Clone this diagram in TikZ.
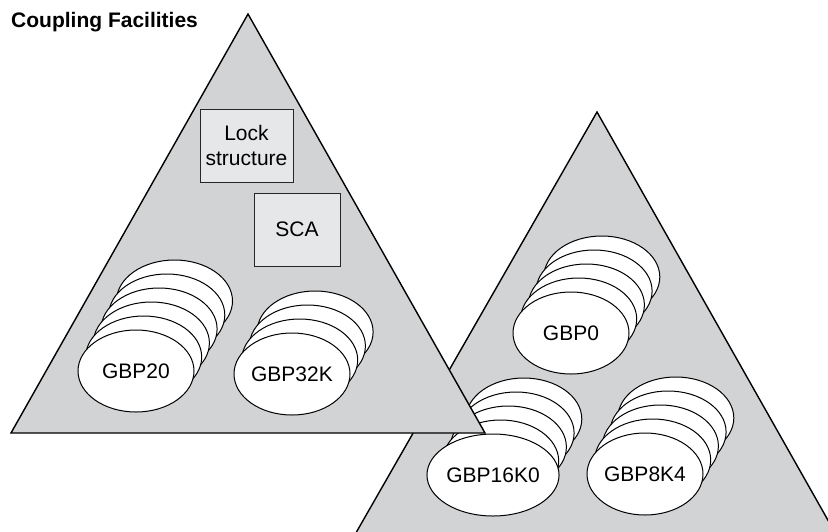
\documentclass[tikz,border=0pt]{standalone}
\usepackage{fontspec}
\setmainfont{Liberation Sans}
\usetikzlibrary{shapes.geometric}

\definecolor{cfgray}{RGB}{209,211,212}
\definecolor{boxgray}{RGB}{230,231,232}

\tikzset{
  facility/.style={draw=black,fill=cfgray,line width=1.4pt,line join=miter},
  structbox/.style={draw=black!85,fill=boxgray,line width=1pt,minimum width=#1,
    minimum height=73pt,inner sep=0pt,align=center},
  pool/.style={ellipse,draw=black,fill=white,line width=1pt,minimum width=116pt,
    minimum height=82pt,inner sep=0pt},
}

% name, x, y, number of back copies, label
\newcommand{\poolstack}[5]{%
  \foreach \k in {#4,...,1}
    \node[pool] (#1-\k) at ({#2+7.7*\k},{#3-14*\k}) {};
  \node[pool] (#1) at (#2,#3) {#5};
}

\begin{document}
\begin{tikzpicture}[x=1pt,y=-1pt,font=\fontsize{21}{25}\selectfont]
  \useasboundingbox (0,0) rectangle (828,531);
  \clip (0,0) rectangle (828,531);

  \draw[facility] (597,112) -- (349,545) -- (842,545) -- cycle;
  \poolstack{gbp0}{571}{333}{4}{GBP0}
  \poolstack{gbp16k0}{493}{475}{4}{GBP16K0}
  \poolstack{gbp8k4}{645}{474}{4}{GBP8K4}

  \draw[facility] (248,14) -- (11,433) -- (485,433) -- cycle;
  \node[structbox=93pt] (lock) at (246.5,145.5) {Lock\\structure};
  \node[structbox=86pt] (sca) at (297,229.5) {SCA};
  \poolstack{gbp20}{136}{371}{5}{GBP20}
  \poolstack{gbp32k}{292}{374}{3}{GBP32K}

  \node[anchor=base west,inner sep=0pt,font=\fontsize{21}{25}\selectfont\bfseries]
    (title) at (11,27) {Coupling Facilities};
\end{tikzpicture}
\end{document}
